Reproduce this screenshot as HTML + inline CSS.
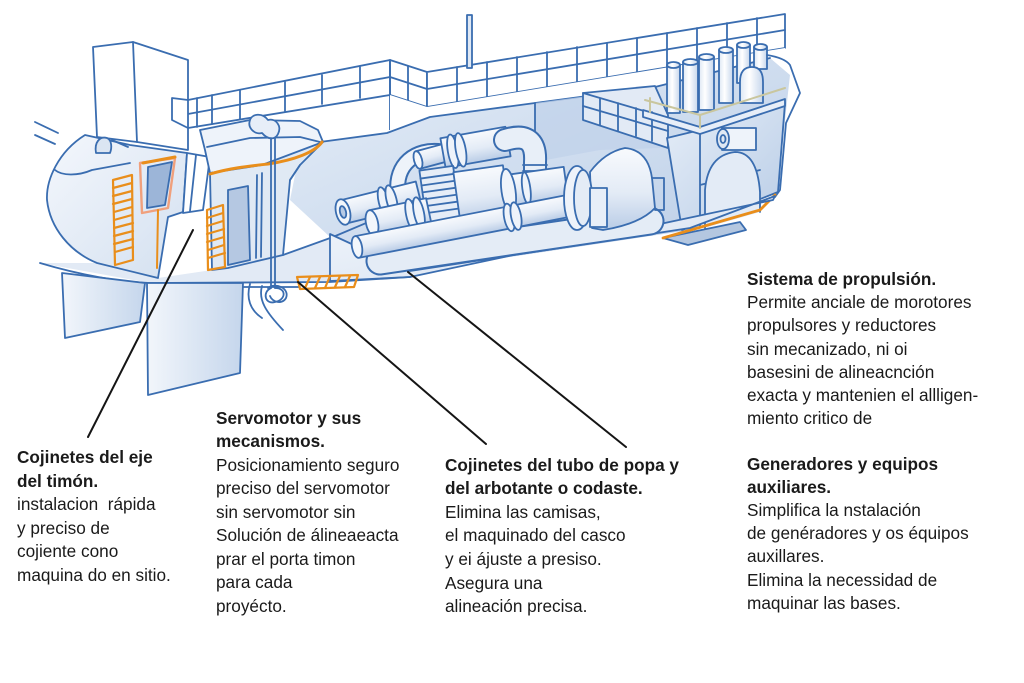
<!DOCTYPE html>
<html><head><meta charset="utf-8">
<style>
html,body{margin:0;padding:0;background:#fff;}
#wrap{position:relative;width:1024px;height:683px;overflow:hidden;background:#fff;}
svg{position:absolute;left:0;top:0;}
.t{position:absolute;font-family:"Liberation Sans",Arial,sans-serif;font-size:17.2px;color:#1a1a1a;white-space:nowrap;}
.t b{font-weight:700;}
</style></head><body><div id="wrap">
<svg width="1024" height="683" viewBox="0 0 1024 683">
<defs>
<linearGradient id="room" x1="0" y1="0" x2="1" y2="1">
<stop offset="0" stop-color="#e6eef8"/><stop offset="1" stop-color="#b8cce6"/></linearGradient>
<linearGradient id="hull" x1="0" y1="0" x2="1" y2="1">
<stop offset="0" stop-color="#f4f7fc"/><stop offset="1" stop-color="#d3e0f0"/></linearGradient>
<linearGradient id="rud" x1="0" y1="0" x2="1" y2="0">
<stop offset="0" stop-color="#f2f6fb"/><stop offset="1" stop-color="#c5d6ec"/></linearGradient>
<linearGradient id="cyl" x1="0" y1="0" x2="0" y2="1">
<stop offset="0" stop-color="#f8fafd"/><stop offset="0.55" stop-color="#e3ebf6"/><stop offset="1" stop-color="#b9cce6"/></linearGradient>
<linearGradient id="stk" x1="0" y1="0" x2="1" y2="0">
<stop offset="0" stop-color="#dde7f4"/><stop offset="0.4" stop-color="#ffffff"/><stop offset="1" stop-color="#c6d6ec"/></linearGradient>
</defs>
<g fill="none" stroke="#3a6db0" stroke-width="1.8" stroke-linejoin="round" stroke-linecap="round">
<!-- motion lines -->
<path d="M35,122 L58,133 M35,135 L55,144"/>
<!-- funnel box -->
<polygon points="93,47 133,42 188,60 188,150 137,142 97,137" fill="#fff"/>
<path d="M133,42 L137,142"/>
<!-- railing section 1 -->
<polygon points="172,98 188,100 390,60 390,95 188,128 172,120" fill="#fff"/>
<path d="M188,100 L188,128 M188,114 L390,77 M197,98 L197,127 M212,95 L212,124 M240,90 L240,119 M285,82 L285,111 M322,75 L322,104 M360,67 L360,98"/>
<!-- corner -->
<polygon points="390,60 427,72 427,107 390,95" fill="#fff"/>
<path d="M390,60 L390,130 M390,77 L427,89 M408,66 L408,101"/>
<!-- railing section 2 -->
<polygon points="427,72 785,14 785,48 427,107" fill="#fff"/>
<path d="M427,89 L785,30"/>
<path d="M457,67 L457,102 M487,62 L487,97 M517,57 L517,92 M547,52 L547,87 M577,47 L577,82 M607,43 L607,77 M637,38 L637,72 M667,33 L667,68 M697,28 L697,63 M727,23 L727,58 M757,18 L757,53"/>
<!-- mast -->
<rect x="467" y="15" width="5" height="53" fill="#dfe8f4"/>
<!-- deck plane -->
<polygon points="390,95 427,107 785,48 792,72 655,87 535,103 430,117 387,133 320,142 390,130" fill="#fff" stroke="none"/>
<!-- lower stern hull fill -->
<polygon points="40,263 97,263 158,278 212,270 283,255 333,237 330,282 150,283" fill="#e2eaf5" stroke="none"/>
<!-- engine room interior -->
<polygon points="300,150 320,142 387,133 430,117 535,103 655,87 770,58 790,75 785,120 778,192 690,230 410,272 330,237 290,200" fill="url(#room)" stroke="none"/>
<polyline points="320,142 387,133 430,117 535,103 655,87 770,58"/>
<polygon points="535,103 655,87 660,148 600,150 535,162" fill="#c0d2ea" stroke="none" opacity="0.75"/>
<path d="M535,103 L535,152"/>
<path d="M283,255 L333,237 L480,175"/>
<!-- generator platform bricks -->
<polygon points="583,93 655,86 668,115 668,148 583,120" fill="#e2eaf5"/>
<path d="M583,106 L668,131 M583,93 L668,118 M600,98 L600,125 M618,103 L618,131 M636,108 L636,136 M652,112 L652,141"/>
<!-- engine block -->
<polygon points="667,138 700,130 785,103 778,192 682,230" fill="url(#room)"/>
<path d="M700,130 L700,226 M700,185 L760,170"/>
<path d="M705,228 L705,190 Q708,155 735,152 Q757,152 760,192 L760,212" fill="#e3ebf6"/>
<rect x="722" y="128" width="34" height="22" fill="#eef3fa"/>
<ellipse cx="723" cy="139" rx="6" ry="10" fill="#dfe8f4"/>
<ellipse cx="723" cy="139" rx="2.5" ry="4"/>
<!-- platform slab -->
<polygon points="643,110 700,127 785,99 785,106 700,134 643,117" fill="#e7eef8"/>
<!-- stacks -->
<g fill="url(#stk)">
<rect x="667" y="65" width="13" height="48"/><ellipse cx="673.5" cy="65" rx="6.5" ry="3"/>
<rect x="683" y="62" width="15" height="50"/><ellipse cx="690.5" cy="62" rx="7.5" ry="3"/>
<rect x="699" y="57" width="15" height="53"/><ellipse cx="706.5" cy="57" rx="7.5" ry="3"/>
<rect x="719" y="50" width="14" height="53"/><ellipse cx="726" cy="50" rx="7" ry="3"/>
<rect x="737" y="45" width="13" height="38"/><ellipse cx="743.5" cy="45" rx="6.5" ry="3"/>
<rect x="754" y="47" width="13" height="22"/><ellipse cx="760.5" cy="47" rx="6.5" ry="3"/>
<path d="M740,103 L740,82 Q740,67 752,67 Q763,67 763,82 L763,103 Z"/>
</g>
<path d="M645,100 L700,115 L785,88 M650,98 L650,112 M700,115 L700,128" stroke="#c9c69e" stroke-width="2"/>
<!-- right hull outline -->
<path d="M767,55 Q785,58 790,65 L800,93 L786,123 L780,190 L775,197"/>
<!-- orange engine base -->
<polygon points="663,238 740,222 746,230 688,245" fill="#b4c7e0" stroke="#3a6db0"/>
<path d="M600,228 L612,234 L663,224 M663,238 L760,210 L775,195" stroke="#e98e1b" stroke-width="2.8"/>
<!-- hull lower band -->
<polygon points="330,234 410,271 690,228 775,196 773,200 410,277 330,281" fill="url(#hull)"/>
<!-- pipes: trough -->
<path d="M380,261 L650,221" stroke="#3a6db0" stroke-width="29"/>
<path d="M380,261 L650,221" stroke="#e4ecf6" stroke-width="25"/>
<!-- arch pipe -->
<path d="M398,192 C395,165 415,148 442,152" stroke="#3a6db0" stroke-width="17"/>
<path d="M398,192 C395,165 415,148 442,152" stroke="#eef3fa" stroke-width="13"/>
<!-- left open-end pipe -->
<g transform="translate(343,212) rotate(-14)">
<rect x="0" y="-12" width="78" height="24" fill="url(#cyl)"/>
<ellipse cx="42" cy="0" rx="5" ry="15" fill="#eef3fa"/><ellipse cx="50" cy="0" rx="5" ry="15" fill="#eef3fa"/>
<ellipse cx="0" cy="0" rx="7" ry="13" fill="#f2f6fb"/><ellipse cx="0" cy="0" rx="3" ry="6" fill="#b7cae4"/>
</g>
<!-- small top-left cylinder -->
<g transform="translate(418,160) rotate(-15)">
<rect x="0" y="-9" width="28" height="18" fill="url(#cyl)"/>
<ellipse cx="0" cy="0" rx="4" ry="9" fill="#f5f8fc"/>
</g>
<!-- top pipe -->
<g transform="translate(443,153) rotate(-10)">
<rect x="0" y="-15" width="66" height="30" fill="url(#cyl)"/>
<ellipse cx="10" cy="0" rx="5" ry="17" fill="#eef3fa"/><ellipse cx="18" cy="0" rx="5" ry="17" fill="#eef3fa"/>
</g>
<!-- U-bend -->
<path d="M505,140 C530,132 536,145 535,162 L535,185" stroke="#3a6db0" stroke-width="24"/>
<path d="M505,140 C530,132 536,145 535,162 L535,185" stroke="#e8eff8" stroke-width="20"/>
<path d="M523,165 L547,165 M523,171 L547,171"/>
<!-- gear -->
<g transform="rotate(-8 440 195)">
<rect x="423" y="168" width="34" height="54" fill="#e6edf7"/>
<path d="M423,176 H457 M423,183 H457 M423,190 H457 M423,197 H457 M423,204 H457 M423,211 H457"/>
</g>
<!-- middle cylinder -->
<g transform="translate(457,198) rotate(-8)">
<rect x="0" y="-26" width="50" height="52" fill="url(#cyl)"/>
<rect x="50" y="-16" width="60" height="32" fill="url(#cyl)"/>
<ellipse cx="52" cy="0" rx="7" ry="22" fill="#eef3fa"/>
<ellipse cx="70" cy="0" rx="4" ry="16" fill="#eef3fa"/>
</g>
<!-- pipe d -->
<g transform="translate(372,223) rotate(-12)">
<rect x="0" y="-13" width="58" height="26" fill="url(#cyl)"/>
<ellipse cx="40" cy="0" rx="5" ry="16" fill="#eef3fa"/><ellipse cx="48" cy="0" rx="5" ry="16" fill="#eef3fa"/>
<ellipse cx="0" cy="0" rx="6" ry="13" fill="#f2f6fb"/>
</g>
<!-- long lower pipe -->
<g transform="translate(357,247) rotate(-11)">
<rect x="0" y="-11" width="235" height="22" fill="url(#cyl)"/>
<ellipse cx="155" cy="0" rx="5" ry="14" fill="#eef3fa"/><ellipse cx="162" cy="0" rx="5" ry="14" fill="#eef3fa"/>
<ellipse cx="0" cy="0" rx="5" ry="11" fill="#f2f6fb"/>
</g>
<!-- big motor cylinder -->
<path d="M590,172 Q605,152 625,148 Q648,150 652,178 L655,208 Q640,224 603,230 L592,228 Z" fill="url(#cyl)"/>
<ellipse cx="577" cy="198" rx="13" ry="32" fill="#eef3fa"/>
<ellipse cx="583" cy="198" rx="9" ry="28" fill="#e4ecf6"/>
<rect x="590" y="188" width="17" height="39" fill="#e7eef8"/>
<path d="M652,178 L664,178 L664,210 L655,210"/>
<!-- stern block -->
<path d="M85,135 L130,145 L187,153 L183,212 L168,217 L158,278 L97,263 C70,252 50,228 47,200 C46,180 58,152 85,135 Z" fill="url(#hull)"/>
<path d="M55,170 C62,176 78,176 92,170 L130,163"/>
<path d="M96,153 C94,142 100,136 107,138 C112,140 112,148 110,153 Z" fill="#dbe5f2"/>
<path d="M112,140 L128,147"/>
<!-- keel lines -->
<path d="M40,263 C80,275 120,282 150,283 L330,282 L410,277"/>
<path d="M150,287 L300,287"/>
<!-- skeg & rudder -->
<polygon points="62,273 145,283 140,322 65,338" fill="url(#rud)"/>
<polygon points="147,283 243,283 240,373 148,395" fill="url(#rud)"/>
<!-- propeller -->
<path d="M250,284 C246,298 250,310 262,318 M262,286 C258,300 266,312 283,330 M268,288 C275,282 290,288 286,298 C282,305 272,302 270,296"/>
<!-- slanted pillar -->
<polygon points="187,153 210,157 203,210 183,213" fill="#fff"/>
<path d="M196,155 L190,211"/>
<!-- deckhouse -->
<polygon points="200,130 250,120 300,121 318,130 323,142 300,160 262,165 210,173 205,150" fill="#eef3fa"/>
<path d="M207,147 L250,138 L300,137 L320,142"/>
<polygon points="210,173 262,165 323,142 300,165 290,180 283,255 228,268 212,270" fill="#e0e9f4"/>
<polygon points="228,190 248,186 250,260 228,265" fill="#b5c8e2"/>
<path d="M257,175 L256,258 M262,173 L261,257 M300,165 L290,180"/>
<path d="M210,174 C230,168 250,166 268,164 C295,160 315,152 322,142" stroke="#e98e1b" stroke-width="3"/>
<!-- winch & rod -->
<path d="M250,120 C247,128 255,135 262,133 C268,140 275,140 278,134 C282,126 276,118 268,120 C262,112 252,114 250,120 Z" fill="#e7eef8"/>
<path d="M271,138 L271,288 M275,138 L275,288"/>
<path d="M271,288 C262,292 265,305 275,302 C286,300 287,288 275,288"/>
<!-- window -->
<polygon points="140,163 175,158 168,208 142,213" stroke="#f0a07c" stroke-width="2.4"/>
<path d="M143,163 L175,157" stroke="#e98e1b" stroke-width="3"/>
<polygon points="148,167 172,162 165,205 147,208" fill="#9cb5d8"/>
<path d="M158,210 L157,268" stroke="#e98e1b" stroke-width="2"/>
<!-- ladders -->
<g stroke="#e98e1b" stroke-width="2.2">
<polygon points="113,180 132,175 133,260 115,265"/>
<path d="M113,188 L132,183 M113,196 L132,191 M113,204 L132,199 M114,212 L132,207 M114,220 L132,215 M114,228 L133,223 M114,236 L133,231 M114,244 L133,239 M115,252 L133,247"/>
<polygon points="207,210 223,205 225,267 208,270"/>
<path d="M207,218 L223,213 M207,226 L223,221 M207,234 L224,229 M207,242 L224,237 M208,250 L224,245 M208,258 L225,253"/>
<polygon points="297,277 358,275 354,287 300,289"/>
<path d="M305,288 L310,277 M315,288 L320,277 M325,288 L330,276 M335,287 L340,276 M345,287 L350,276"/>
</g>
<!-- leader lines -->
<g stroke="#151515" stroke-width="2">
<path d="M88,437 L193,230"/>
<path d="M298,282 L486,444"/>
<path d="M408,272 L626,447"/>
</g>
</g>
</svg>

<div class="t" style="left:17px;top:446px;line-height:23.5px;"><b>Cojinetes del eje</b><br><b>del timón.</b><br>instalacion&nbsp; rápida<br>y preciso de<br>cojiente cono<br>maquina do en sitio.</div>

<div class="t" style="left:216px;top:406.5px;line-height:23.5px;"><b>Servomotor y sus</b><br><b>mecanismos.</b><br>Posicionamiento seguro<br>preciso del servomotor<br>sin servomotor sin<br>Solución de álineaeacta<br>prar el porta timon<br>para cada<br>proyécto.</div>

<div class="t" style="left:445px;top:453.6px;line-height:23.6px;"><b>Cojinetes del tubo de popa y</b><br><b>del arbotante o codaste.</b><br>Elimina las camisas,<br>el maquinado del casco<br>y ei ájuste a presiso.<br>Asegura una<br>alineación precisa.</div>

<div class="t" style="left:747px;top:268.3px;line-height:23.1px;"><b>Sistema de propulsión.</b><br>Permite anciale de morotores<br>propulsores y reductores<br>sin mecanizado, ni oi<br>basesini de alineacnción<br>exacta y mantenien el allligen-<br>miento critico de<br><br><b>Generadores y equipos</b><br><b>auxiliares.</b><br>Simplifica la nstalación<br>de genéradores y os équipos<br>auxillares.<br>Elimina la necessidad de<br>maquinar las bases.</div>
</div></body></html>
